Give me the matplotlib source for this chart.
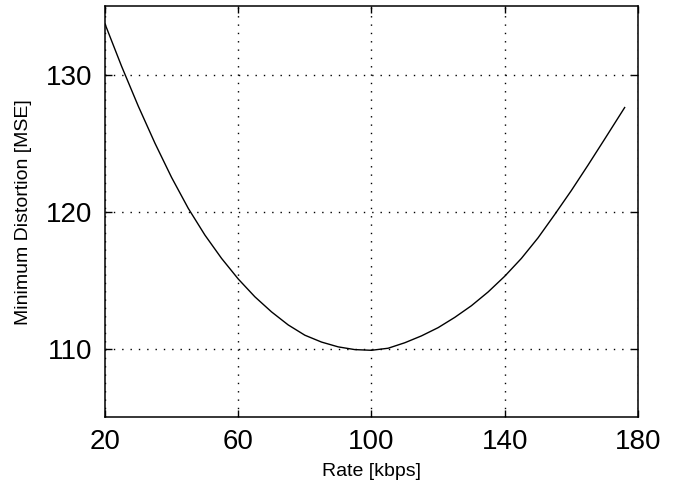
import numpy as np
import matplotlib
matplotlib.use("Agg")
import matplotlib.pyplot as plt

# rate (kbps) vs. minimum distortion (MSE)
rate = [20, 25, 30, 35, 40, 45, 50, 55, 60, 65, 70, 75, 80, 85, 90, 95, 100,
        105, 110, 115, 120, 125, 130, 135, 140, 145, 150, 155, 160, 165, 170, 176]
dist = [133.7, 130.6, 127.7, 125.0, 122.5, 120.25, 118.3, 116.6, 115.1, 113.8,
        112.7, 111.75, 111.0, 110.5, 110.15, 109.95, 109.9, 110.05, 110.45, 110.95,
        111.55, 112.3, 113.15, 114.15, 115.3, 116.6, 118.1, 119.8, 121.55, 123.4,
        125.3, 127.6]
xticks = [20, 60, 100, 140, 180]
yticks = [110, 120, 130]

plt.rcParams.update({
    "font.family": ["Liberation Sans", "DejaVu Sans"],
})

fig = plt.figure(figsize=(6.79, 4.91), dpi=100)
ax = fig.add_axes([0.1546, 0.1497, 0.785, 0.838])

ax.plot(rate, dist, color="black", lw=1.0)

ax.set_xlim(20, 180)
ax.set_ylim(105, 135)
ax.set_xticks(xticks)
ax.set_yticks(yticks)
ax.tick_params(direction="in", length=5, width=1, labelsize=20,
               top=True, right=True, pad=8)
ax.tick_params(axis="y", pad=9)
ax.grid(True, color="black", linestyle=(0, (1, 5)), linewidth=1)
for s in ax.spines.values():
    s.set_linewidth(1.1)

ax.set_xlabel("Rate [kbps]", fontsize=14, labelpad=6)
ax.set_ylabel("Minimum Distortion [MSE]", fontsize=14, labelpad=10)

fig.savefig("out.png", dpi=100)
